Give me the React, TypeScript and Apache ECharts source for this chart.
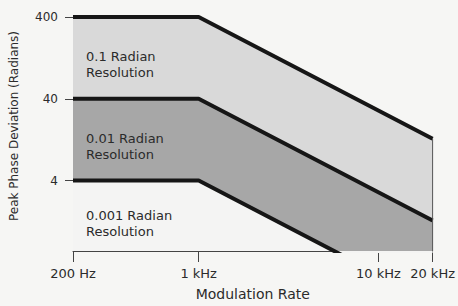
import React, { useEffect, useRef } from "react";
import * as echarts from "echarts";

// Modulation rate (Hz) breakpoints of the boundary lines
const frequencies = [200, 1000, 20000];
// Boundary lines: peak phase deviation (radians)
const res01 = [400, 400, 13];     // 0.1 radian resolution upper limit
const res001 = [40, 40, 1.3];     // 0.01 radian resolution upper limit
const res0001 = [4, 4, 0.13];     // 0.001 radian resolution upper limit

const xTickValues = [200, 1000, 10000, 20000];
const xTickLabels = ["200 Hz", "1 kHz", "10 kHz", "20 kHz"];
const yTickValues = [4, 40, 400];
const yMin = 0.55;
const yMax = 400;

const regionLabels = ["0.1 Radian\nResolution", "0.01 Radian\nResolution", "0.001 Radian\nResolution"];

const FONT = '"DejaVu Sans", Verdana, sans-serif';
const TEXT = "#2b2b2b";

export default function App() {
  const ref = useRef<HTMLDivElement>(null);
  useEffect(() => {
    document.body.style.margin = "0";
    const chart = echarts.init(ref.current!, null, { renderer: "svg" });
    const mk = (vals: number[]) => frequencies.map((f, i) => [f, vals[i]]);
    const lineSeries = (name: string, vals: number[], fill: string) => ({
      name,
      type: "line",
      data: mk(vals),
      showSymbol: false,
      symbol: "none",
      lineStyle: { color: "#161616", width: 4 },
      areaStyle: { color: fill, opacity: 1, origin: "start" },
      clip: true,
      z: 2,
    });
    chart.setOption({
      animation: false,
      backgroundColor: "#f6f6f4",
      grid: { left: 73, top: 17, right: 25, bottom: 49 },
      xAxis: {
        type: "log",
        min: 200,
        max: 20000,
        name: "Modulation Rate",
        nameLocation: "middle",
        nameGap: 36,
        nameTextStyle: { fontFamily: FONT, fontSize: 14, color: TEXT },
        axisLine: { lineStyle: { color: "#444", width: 1 } },
        axisTick: { show: true, length: 11, customValues: xTickValues, lineStyle: { color: "#444" } },
        axisLabel: {
          customValues: xTickValues,
          margin: 16,
          fontFamily: FONT,
          fontSize: 13,
          color: TEXT,
          formatter: (v: number) => {
            const i = xTickValues.findIndex((t) => Math.abs(t - v) / t < 1e-6);
            return i >= 0 ? xTickLabels[i] : "";
          },
        },
        splitLine: { show: false },
        minorTick: { show: false },
      },
      yAxis: {
        type: "log",
        min: yMin,
        max: yMax,
        axisLine: { show: true, lineStyle: { color: "#444", width: 1 } },
        axisTick: { show: true, length: 8, customValues: yTickValues, lineStyle: { color: "#444" } },
        axisLabel: {
          customValues: yTickValues,
          margin: 15,
          fontFamily: FONT,
          fontSize: 12,
          color: TEXT,
          formatter: (v: number) => String(Math.round(v)),
        },
        splitLine: { show: false },
      },
      series: [
        lineSeries("0.1 Radian Resolution", res01, "#d9d9d9"),
        lineSeries("0.01 Radian Resolution", res001, "#a7a7a7"),
        lineSeries("0.001 Radian Resolution", res0001, "#f4f4f3"),
        {
          name: "edge",
          type: "line",
          data: [
            [frequencies[frequencies.length - 1], res01[res01.length - 1]],
            [frequencies[frequencies.length - 1], yMin],
          ],
          showSymbol: false,
          symbol: "none",
          lineStyle: { color: "#555", width: 1 },
          z: 3,
        },
      ],
      graphic: [
        {
          type: "text",
          x: 14,
          y: 126,
          rotation: Math.PI / 2,
          style: {
            text: "Peak Phase Deviation (Radians)",
            font: `12px ${FONT}`,
            fill: TEXT,
            align: "center",
            verticalAlign: "middle",
          },
        },
        ...regionLabels.map((t, i) => ({
          type: "text",
          left: 86,
          top: [48, 130, 207][i],
          z: 10,
          style: { text: t, font: `13px ${FONT}`, fill: TEXT, lineHeight: 16 },
        })),
      ],
    });
    return () => chart.dispose();
  }, []);
  return <div ref={ref} style={{ position: "absolute", left: 0, top: 0, width: 458, height: 306 }} />;
}
